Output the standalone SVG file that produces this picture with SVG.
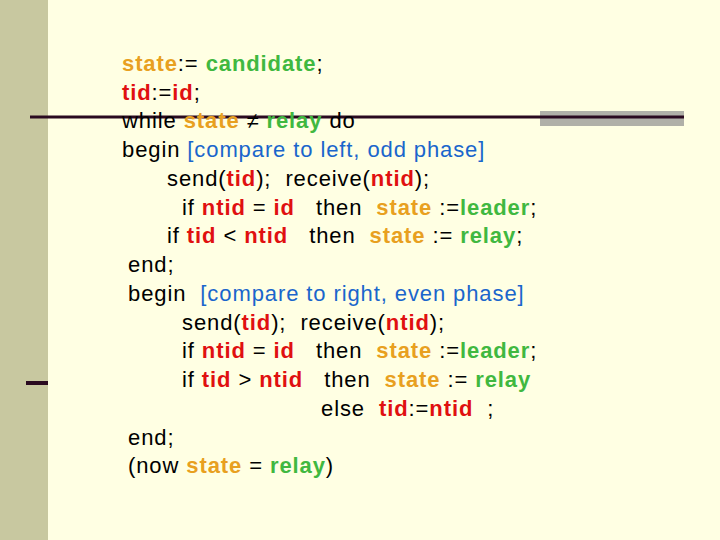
<svg xmlns="http://www.w3.org/2000/svg" width="720" height="540" viewBox="0 0 720 540">
<style>
text{font-family:"Liberation Sans",Arial,sans-serif;font-size:22px;letter-spacing:0.9px;fill:#000;white-space:pre}
.o{fill:#E8A020;font-weight:bold}.g{fill:#40B840;font-weight:bold}.r{fill:#E01010;font-weight:bold}.b{fill:#1a66cc}
</style>
<rect width="720" height="540" fill="#FFFFE3"/>
<rect x="0" y="0" width="48" height="540" fill="#C8C8A0"/>
<rect x="540" y="111" width="144" height="15" fill="#B0B0A8"/>
<line x1="30" y1="117" x2="684" y2="117" stroke="#2a0a20" stroke-width="3"/>
<line x1="26" y1="383" x2="48" y2="383" stroke="#2a0a20" stroke-width="4"/>
<text x="122" y="71" xml:space="preserve"><tspan class="o">state</tspan>:= <tspan class="g">candidate</tspan>;</text>
<text x="122" y="100" xml:space="preserve"><tspan class="r">tid</tspan>:=<tspan class="r">id</tspan>;</text>
<text x="122" y="128" xml:space="preserve">while <tspan class="o">state</tspan> ≠ <tspan class="g">relay</tspan> do</text>
<text x="122" y="157" xml:space="preserve">begin <tspan class="b">[compare to left, odd phase]</tspan></text>
<text x="167" y="186" xml:space="preserve">send(<tspan class="r">tid</tspan>);  receive(<tspan class="r">ntid</tspan>);</text>
<text x="182" y="215" xml:space="preserve">if <tspan class="r">ntid</tspan> = <tspan class="r">id</tspan>   then  <tspan class="o">state</tspan> :=<tspan class="g">leader</tspan>;</text>
<text x="167" y="243" xml:space="preserve">if <tspan class="r">tid</tspan> &lt; <tspan class="r">ntid</tspan>   then  <tspan class="o">state</tspan> := <tspan class="g">relay</tspan>;</text>
<text x="128" y="272" xml:space="preserve">end;</text>
<text x="128" y="301" xml:space="preserve">begin  <tspan class="b">[compare to right, even phase]</tspan></text>
<text x="182" y="330" xml:space="preserve">send(<tspan class="r">tid</tspan>);  receive(<tspan class="r">ntid</tspan>);</text>
<text x="182" y="358" xml:space="preserve">if <tspan class="r">ntid</tspan> = <tspan class="r">id</tspan>   then  <tspan class="o">state</tspan> :=<tspan class="g">leader</tspan>;</text>
<text x="182" y="387" xml:space="preserve">if <tspan class="r">tid</tspan> &gt; <tspan class="r">ntid</tspan>   then  <tspan class="o">state</tspan> := <tspan class="g">relay</tspan></text>
<text x="321" y="416" xml:space="preserve">else  <tspan class="r">tid</tspan>:=<tspan class="r">ntid</tspan>  ;</text>
<text x="128" y="445" xml:space="preserve">end;</text>
<text x="128" y="473" xml:space="preserve">(now <tspan class="o">state</tspan> = <tspan class="g">relay</tspan>)</text>
</svg>
